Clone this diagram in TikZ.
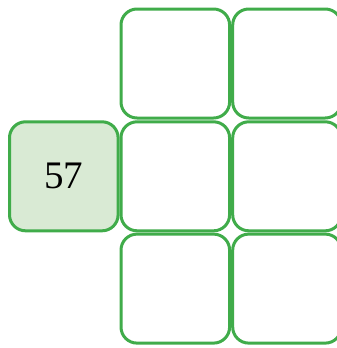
\documentclass[tikz,border=0pt]{standalone}
\usepackage{fontspec}
\setmainfont{Liberation Serif}
\definecolor{boxgreen}{RGB}{64,172,74}
\definecolor{fillgreen}{RGB}{217,234,212}
\begin{document}
\begin{tikzpicture}[x=1pt,y=-1pt,
  cell/.style={draw=boxgreen, line width=3pt, rounded corners=16pt,
    minimum width=108.6pt, minimum height=109pt, inner sep=0pt, fill=white},
  startcell/.style={cell, fill=fillgreen, font=\fontsize{39}{41}\selectfont}]
\useasboundingbox (0,0) rectangle (337,348);
\node[startcell] (s) at (63.8,176.3) {57};
\node[cell] (a1) at (175.3,63.5) {};
\node[cell] (a2) at (287,63.5) {};
\node[cell] (b1) at (175.3,176.3) {};
\node[cell] (b2) at (287,176.3) {};
\node[cell] (c1) at (175.3,288.6) {};
\node[cell] (c2) at (287,288.6) {};
\end{tikzpicture}
\end{document}
